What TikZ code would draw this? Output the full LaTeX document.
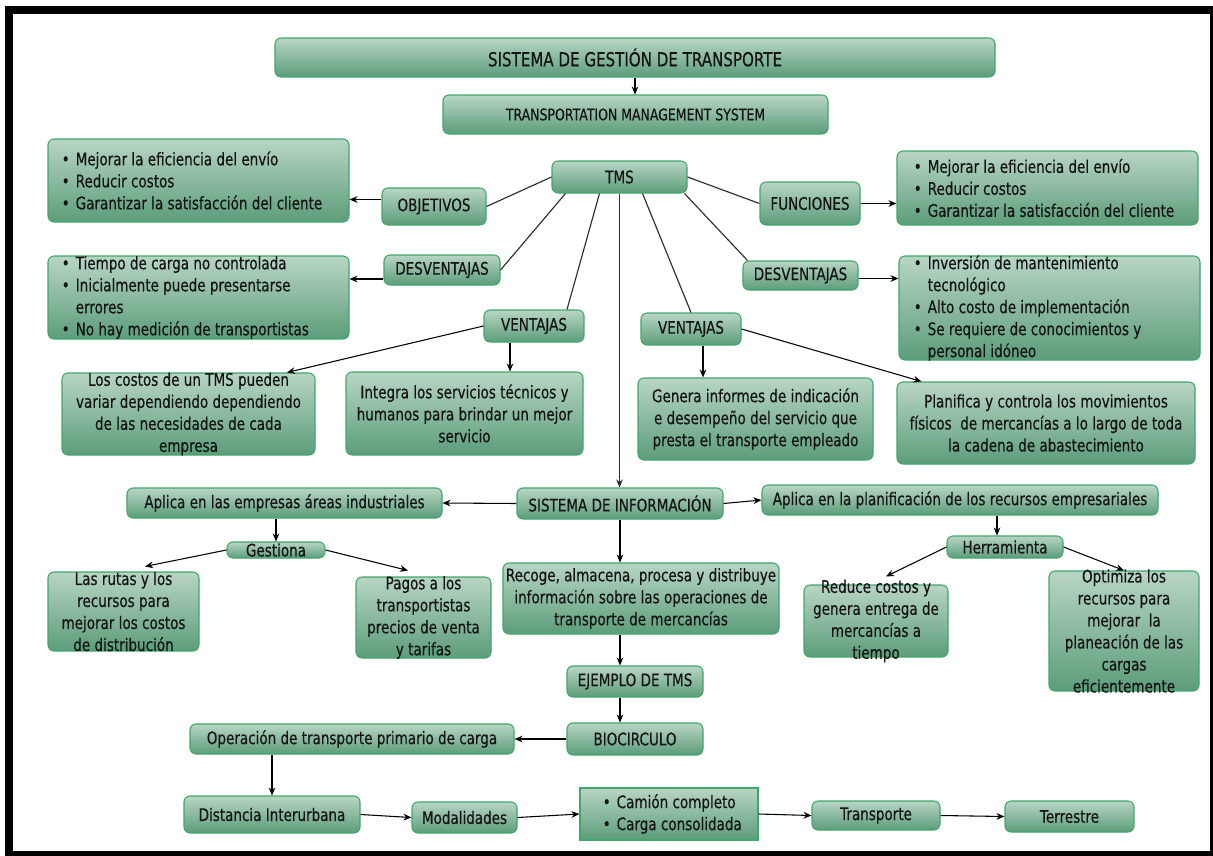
\documentclass[tikz,border=0pt]{standalone}
\usepackage{fontspec}
\setmainfont{DejaVu Sans}[FakeStretch=0.78,FakeBold=0.4]
\usetikzlibrary{arrows.meta,calc}

\definecolor{boxtop}{RGB}{184,213,196}
\definecolor{boxbot}{RGB}{92,157,122}
\definecolor{boxline}{RGB}{64,166,108}
\definecolor{ink}{RGB}{20,20,20}
\definecolor{wirecol}{RGB}{45,45,45}

% bullet and hanging indent for the list boxes
\newcommand\bul{\makebox[10.5pt][l]{•}}
\newcommand\ind{\hspace*{10.5pt}}
% empty shaded box from its corners: [style]{name}{x1}{y1}{x2}{y2}
\newcommand\cardat[6][card]{%
  \node[#1, minimum width={(#5-#3)*0.75pt}, minimum height={(#6-#4)*0.75pt}]
    (#2) at ({(#3+#5)/2},{(#4+#6)/2}) {};}

\begin{document}
\begin{tikzpicture}[x=0.75pt,y=-0.75pt,
  card/.style={draw=boxline, line width=0.8pt, rounded corners=4.5pt,
    top color=boxtop, bottom color=boxbot, inner sep=0pt},
  sharpcard/.style={card, rounded corners=0pt},
  txt/.style={inner sep=0pt, align=center, text=ink,
    font=\fontsize{13pt}{16.5pt}\selectfont},
  lst/.style={txt, align=left},
  arr/.style={draw=black, line width=0.8pt, -{Stealth[length=6pt,width=5pt]}},
  wire/.style={draw=wirecol, line width=0.85pt}]

\useasboundingbox (0,0) rectangle (1213,856);
% page frame
\fill[white] (0,0) rectangle (1213,856);
\fill[black] (5,6) rectangle (1213,856);
\fill[white] (13,14) rectangle (1210,851);

% boxes
\cardat{title}{275}{38}{995}{77}
\cardat{eng}{443}{95}{828}{134}
\cardat{tms}{552}{161}{687}{193}
\cardat{obj}{382}{188}{486}{225}
\cardat{objlist}{48}{139}{349}{222}
\cardat{func}{760}{182}{860}{225}
\cardat{funclist}{897}{151}{1198}{225}
\cardat{desvL}{384}{255}{500}{285}
\cardat{desvLlist}{48}{256}{349}{339}
\cardat{desvR}{743}{261}{858}{290}
\cardat{desvRlist}{899}{256}{1200}{360}
\cardat{ventL}{484}{310}{584}{342}
\cardat{ventR}{641}{313}{741}{345}
\cardat{costos}{62}{373}{315}{455}
\cardat{integra}{346}{372}{583}{455}
\cardat{genera}{638}{378}{873}{460}
\cardat{planifica}{897}{382}{1195}{464}
\cardat{empresas}{127}{488}{442}{518}
\cardat{info}{517}{488}{723}{519}
\cardat{planif}{762}{485}{1158}{515}
\cardat{gestiona}{227}{542}{325}{558}
\cardat{rutas}{48}{572}{199}{651}
\cardat{pagos}{356}{577}{491}{658}
\cardat{herr}{947}{536}{1063}{558}
\cardat{reduce}{804}{585}{948}{657}
\cardat{optimiza}{1049}{571}{1199}{691}
\cardat{recoge}{503}{563}{779}{634}
\cardat{ejemplo}{567}{666}{703}{697}
\cardat{bio}{567}{723}{703}{755}
\cardat{operacion}{190}{724}{514}{754}
\cardat{distancia}{184}{796}{360}{833}
\cardat{modal}{412}{802}{517}{833}
\cardat[sharpcard]{camion}{580}{788}{758}{840}
\cardat{transp}{812}{801}{940}{830}
\cardat{terrestre}{1005}{801}{1134}{832}

% texts
\node[txt, font=\fontsize{14.5pt}{17pt}\selectfont] (titleT) at (title) {SISTEMA DE GESTIÓN DE TRANSPORTE};
\node[txt, font=\fontsize{12pt}{15pt}\selectfont] (engT) at (eng) {TRANSPORTATION MANAGEMENT SYSTEM};
\node[txt] (tmsT) at (tms) {TMS};
\node[txt] (objT) at (obj) {OBJETIVOS};
\node[txt] (funcT) at (func) {FUNCIONES};
\node[txt] (desvLT) at (desvL) {DESVENTAJAS};
\node[txt] (desvRT) at (desvR) {DESVENTAJAS};
\node[txt] (ventLT) at (ventL) {VENTAJAS};
\node[txt] (ventRT) at (ventR) {VENTAJAS};
\node[lst, anchor=west] (objlistT) at ([shift={(14,0)}]objlist.west)
  {\bul Mejorar la eficiencia del envío\\ \bul Reducir costos\\ \bul Garantizar la satisfacción del cliente};
\node[lst, anchor=west] (funclistT) at ([shift={(17,0)}]funclist.west)
  {\bul Mejorar la eficiencia del envío\\ \bul Reducir costos\\ \bul Garantizar la satisfacción del cliente};
\node[lst, anchor=west] (desvLlistT) at ([shift={(14,0)}]desvLlist.west)
  {\bul Tiempo de carga no controlada\\ \bul Inicialmente puede presentarse\\ \ind errores\\ \bul No hay medición de transportistas};
\node[lst, anchor=west] (desvRlistT) at ([shift={(15,0)}]desvRlist.west)
  {\bul Inversión de mantenimiento\\ \ind tecnológico\\ \bul Alto costo de implementación\\ \bul Se requiere de conocimientos y\\ \ind personal idóneo};
\node[txt] (costosT) at (costos) {Los costos de un TMS pueden\\ variar dependiendo dependiendo\\ de las necesidades de cada\\ empresa};
\node[txt] (integraT) at (integra) {Integra los servicios técnicos y\\ humanos para brindar un mejor\\ servicio};
\node[txt] (generaT) at (genera) {Genera informes de indicación\\ e desempeño del servicio que\\ presta el transporte empleado};
\node[txt] (planificaT) at (planifica) {Planifica y controla los movimientos\\ físicos~ de mercancías a lo largo de toda\\ la cadena de abastecimiento};
\node[txt] (empresasT) at (empresas) {Aplica en las empresas áreas industriales};
\node[txt] (infoT) at (info) {SISTEMA DE INFORMACIÓN};
\node[txt] (planifT) at (planif) {Aplica en la planificación de los recursos empresariales};
\node[txt] (gestionaT) at (gestiona) {Gestiona};
\node[txt] (rutasT) at (rutas) {Las rutas y los\\ recursos para\\ mejorar los costos\\ de distribución};
\node[txt] (pagosT) at (pagos) {Pagos a los\\ transportistas\\ precios de venta\\ y tarifas};
\node[txt] (herrT) at (herr) {Herramienta};
\node[txt] (reduceT) at (reduce) {Reduce costos y\\ genera entrega de\\ mercancías a\\ tiempo};
\node[txt] (optimizaT) at (optimiza) {Optimiza los\\ recursos para\\ mejorar~ la\\ planeación de las\\ cargas\\ eficientemente};
\node[txt] (recogeT) at (recoge) {Recoge, almacena, procesa y distribuye\\ información sobre las operaciones de\\ transporte de mercancías};
\node[txt] (ejemploT) at (ejemplo) {EJEMPLO DE TMS};
\node[txt] (bioT) at (bio) {BIOCIRCULO};
\node[txt] (operacionT) at (operacion) {Operación de transporte primario de carga};
\node[txt] (distanciaT) at (distancia) {Distancia Interurbana};
\node[txt] (modalT) at (modal) {Modalidades};
\node[lst, anchor=west] (camionT) at ([shift={(23,0)}]camion.west) {\bul Camión completo\\ \bul Carga consolidada};
\node[txt] (transpT) at (transp) {Transporte};
\node[txt] (terrestreT) at (terrestre) {Terrestre};

% connectors
\draw[arr] (title.south) -- (title.south |- eng.north);

\draw[wire] (tms.west) -- (obj.east);
\draw[wire] ([shift={(14,0)}]tms.south west) -- (desvL.east);
\draw[wire] ([shift={(48,0)}]tms.south west) -- ([shift={(33,0)}]ventL.north);
\draw[arr, draw=wirecol] (tms.south) -- (tms.south |- info.north);
\draw[wire] ([shift={(-45,0)}]tms.south east) -- (ventR.north);
\draw[wire] ([shift={(-3,0)}]tms.south east) -- ([shift={(5,0)}]desvR.north west);
\draw[wire] (tms.east) -- (func.west);

\coordinate (o1) at ([shift={(0,-7)}]obj.west);
\draw[arr] (o1) -- (o1 -| objlist.east);
\coordinate (d1) at ([shift={(0,9)}]desvL.west);
\draw[arr] (d1) -- (d1 -| desvLlist.east);
\draw[arr] (func.east) -- (func.east -| funclist.west);
\coordinate (d2) at ([shift={(0,3)}]desvR.east);
\draw[arr] (d2) -- (d2 -| desvRlist.west);

\draw[arr] (ventL.west) -- ([shift={(98.5,0)}]costos.north);
\coordinate (v1) at ([shift={(-24,0)}]ventL.south);
\draw[arr] (v1) -- (v1 |- integra.north);
\coordinate (v2) at ([shift={(12,0)}]ventR.south);
\draw[arr] (v2) -- (v2 |- genera.north);
\draw[arr] (ventR.east) -- ([shift={(25,0)}]planifica.north west);

\draw[arr] (info.west) -- (empresas.east);
\draw[arr] (info.east) -- (planif.west);
\draw[arr] (gestiona.north |- empresas.south) -- (gestiona.north);
\draw[arr] (gestiona.west) -- ([shift={(21.5,-5)}]rutas.north);
\draw[arr] (gestiona.east) -- ([shift={(-15.5,-6)}]pagos.north);
\coordinate (h1) at ([shift={(-8,0)}]herr.north);
\draw[arr] (h1 |- planif.south) -- (h1);
\draw[arr] (herr.west) -- ([shift={(10,-8)}]reduce.north);
\draw[arr] (herr.east) -- (optimiza.north);

\draw[arr] (info.south) -- (info.south |- recoge.north);
\coordinate (e1) at ([shift={(-15,0)}]ejemplo.north);
\draw[arr] (e1 |- recoge.south) -- (e1);
\coordinate (b1) at ([shift={(-15,0)}]bio.north);
\draw[arr] (b1 |- ejemplo.south) -- (b1);
\draw[arr] (bio.west) -- (operacion.east);
\draw[arr] (distancia.north |- operacion.south) -- (distancia.north);
\draw[arr] (distancia.east) -- (modal.west);
\draw[arr] (modal.east) -- (camion.west);
\draw[arr] (camion.east) -- (transp.west);
\draw[arr] (transp.east) -- (terrestre.west);
\end{tikzpicture}
\end{document}
